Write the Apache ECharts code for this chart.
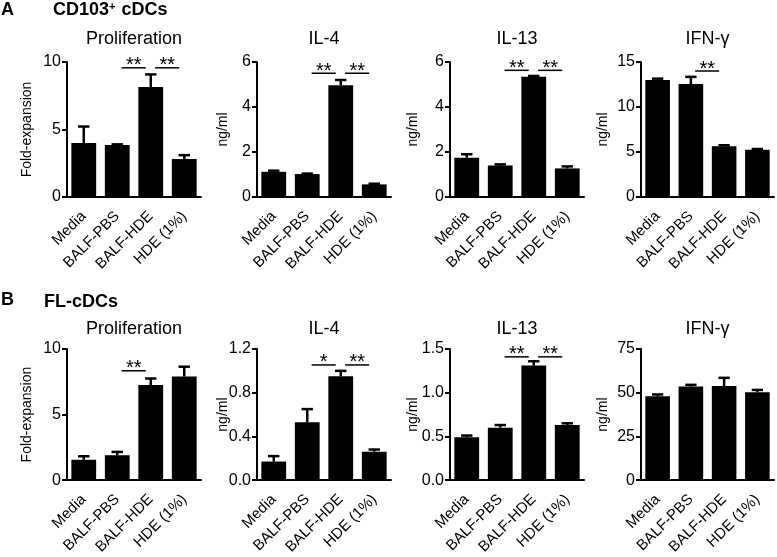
<!DOCTYPE html>
<html><head><meta charset="utf-8">
<script src="https://cdn.jsdelivr.net/npm/echarts@6/dist/echarts.min.js"></script>
<style>html,body{margin:0;padding:0;background:#fff}#c{width:777px;height:557px}</style>
</head><body><div id="c"></div>
<script>
// ---------- DATA ----------
const categories = ['Media', 'BALF-PBS', 'BALF-HDE', 'HDE (1%)'];

// Row A: CD103+ cDCs
const aProlifMean = [4.0, 3.85, 8.15, 2.82];
const aProlifErr  = [5.22, 3.9, 9.08, 3.1];
const aIL4Mean    = [1.12, 1.02, 4.97, 0.56];
const aIL4Err     = [1.17, 1.04, 5.2, 0.59];
const aIL13Mean   = [1.75, 1.4, 5.35, 1.27];
const aIL13Err    = [1.9, 1.45, 5.38, 1.36];
const aIFNMean    = [13.0, 12.55, 5.65, 5.25];
const aIFNErr     = [13.15, 13.35, 5.75, 5.33];

// Row B: FL-cDCs
const bProlifMean = [1.55, 1.9, 7.25, 7.9];
const bProlifErr  = [1.82, 2.15, 7.75, 8.65];
const bIL4Mean    = [0.17, 0.53, 0.95, 0.26];
const bIL4Err     = [0.22, 0.65, 1.0, 0.28];
const bIL13Mean   = [0.49, 0.6, 1.31, 0.63];
const bIL13Err    = [0.51, 0.63, 1.36, 0.65];
const bIFNMean    = [48.0, 53.5, 53.8, 50.2];
const bIFNErr     = [49.0, 54.5, 58.5, 51.6];

// significance brackets: [fromIndex, toIndex, yValue, label]
const aProlifSig = [[1, 2, 9.57, '**'], [2, 3, 9.57, '**']];
const aIL4Sig    = [[1, 2, 5.5, '**'], [2, 3, 5.5, '**']];
const aIL13Sig   = [[1, 2, 5.63, '**'], [2, 3, 5.63, '**']];
const aIFNSig    = [[1, 2, 14.0, '**']];
const bProlifSig = [[1, 2, 8.34, '**']];
const bIL4Sig    = [[1, 2, 1.054, '*'], [2, 3, 1.054, '**']];
const bIL13Sig   = [[1, 2, 1.41, '**'], [2, 3, 1.41, '**']];
const bIFNSig    = [];

// axis settings: [max, interval, decimals]
const aProlifAxis = [10, 5, 0], aIL4Axis = [6, 2, 0], aIL13Axis = [6, 2, 0], aIFNAxis = [15, 5, 0];
const bProlifAxis = [10, 5, 0], bIL4Axis = [1.2, 0.4, 1], bIL13Axis = [1.5, 0.5, 1], bIFNAxis = [75, 25, 0];

const panelTitles = ['Proliferation', 'IL-4', 'IL-13', 'IFN-γ'];
const yNames = ['Fold-expansion', 'ng/ml', 'ng/ml', 'ng/ml'];

// ---------- LAYOUT ----------
const FONT = '"Liberation Sans", Arial, Helvetica, sans-serif';
const colLeft = [67, 257, 450, 641];
const colWidth = [134, 134, 134, 133];
const rowTop = [62, 349];
const plotH = 135;
const nameGaps = [33, 27, 30, 31];
const titleTop = [30, 320];

const panels = [
  [aProlifMean, aProlifErr, aProlifSig, aProlifAxis],
  [aIL4Mean, aIL4Err, aIL4Sig, aIL4Axis],
  [aIL13Mean, aIL13Err, aIL13Sig, aIL13Axis],
  [aIFNMean, aIFNErr, aIFNSig, aIFNAxis],
  [bProlifMean, bProlifErr, bProlifSig, bProlifAxis],
  [bIL4Mean, bIL4Err, bIL4Sig, bIL4Axis],
  [bIL13Mean, bIL13Err, bIL13Sig, bIL13Axis],
  [bIFNMean, bIFNErr, bIFNSig, bIFNAxis]
];

const grid = [], xAxis = [], yAxis = [], series = [], title = [];

panels.forEach((p, k) => {
  const [mean, err, sig, ax] = p;
  const r = Math.floor(k / 4), c = k % 4;
  grid.push({left: colLeft[c], top: rowTop[r], width: colWidth[c], height: plotH});
  xAxis.push({
    gridIndex: k, type: 'category', data: categories,
    axisLine: {lineStyle: {color: '#000', width: 2}},
    axisTick: {alignWithLabel: true, length: 6, lineStyle: {color: '#000', width: 2}},
    axisLabel: {rotate: 45, margin: 17, fontSize: 15, color: '#000', fontFamily: FONT, interval: 0, hideOverlap: false},
    splitLine: {show: false}
  });
  yAxis.push({
    gridIndex: k, type: 'value', min: 0, max: ax[0], interval: ax[1],
    name: yNames[c], nameLocation: 'middle', nameRotate: 90, nameGap: nameGaps[c], nameMoveOverlap: false,
    nameTextStyle: {fontSize: 14, color: '#000', fontFamily: FONT},
    axisLine: {show: true, lineStyle: {color: '#000', width: 2}},
    axisTick: {show: true, length: 5, lineStyle: {color: '#000', width: 2}},
    axisLabel: {fontSize: 16, color: '#000', fontFamily: FONT, margin: 6,
      formatter: v => v.toFixed(ax[2])},
    splitLine: {show: false}
  });
  series.push({
    type: 'bar', xAxisIndex: k, yAxisIndex: k, data: mean,
    barWidth: '74%', itemStyle: {color: '#000'}, silent: true, animation: false
  });
  series.push({
    type: 'custom', xAxisIndex: k, yAxisIndex: k, animation: false, silent: true, clip: false, z: 5,
    encode: {x: 0, y: 2},
    data: mean.map((m, i) => [i, m, err[i]]),
    renderItem: (params, api) => {
      const x = api.value(0);
      const p0 = api.coord([x, api.value(1)]);
      const p1 = api.coord([x, api.value(2)]);
      const hw = api.size([1, 0])[0] * 0.17;
      return {type: 'group', children: [
        {type: 'line', shape: {x1: p0[0], y1: p0[1], x2: p1[0], y2: p1[1]}, style: {stroke: '#000', lineWidth: 2.5}},
        {type: 'line', shape: {x1: p1[0] - hw, y1: p1[1], x2: p1[0] + hw, y2: p1[1]}, style: {stroke: '#000', lineWidth: 2.5}}
      ]};
    }
  });
  if (sig.length) {
    series.push({
      type: 'custom', xAxisIndex: k, yAxisIndex: k, animation: false, silent: true, clip: false, z: 6,
      encode: {x: 0, y: 1},
      data: sig.map(s => [s[0], s[2]]),
      renderItem: (params, api) => {
        const s = sig[params.dataIndex];
        const a = api.coord([s[0], s[2]]);
        const b = api.coord([s[1], s[2]]);
        const band = api.size([1, 0])[0];
        const x1 = a[0] + band * 0.13, x2 = b[0] - band * 0.15;
        return {type: 'group', children: [
          {type: 'line', shape: {x1: x1, y1: a[1], x2: x2, y2: a[1]}, style: {stroke: '#000', lineWidth: 1.5}},
          {type: 'text', style: {text: s[3], x: (x1 + x2) / 2, y: a[1] - 2, align: 'center', verticalAlign: 'middle',
            fontSize: 20, fontFamily: FONT, fill: '#000'}}
        ]};
      }
    });
  }
  title.push({
    text: panelTitles[c], left: colLeft[c] + colWidth[c] / 2, top: titleTop[r], textAlign: 'center', padding: 0,
    textStyle: {fontSize: 18, fontWeight: 'normal', color: '#000', fontFamily: FONT}
  });
});

title.push({text: 'A', left: 1, top: 1, padding: 0, textStyle: {fontSize: 18, fontWeight: 'bold', color: '#000', fontFamily: FONT}});
title.push({text: 'CD103{sup|+} cDCs', left: 53, top: 1, padding: 0,
  textStyle: {fontSize: 18, fontWeight: 'bold', color: '#000', fontFamily: FONT,
    rich: {sup: {fontSize: 11, fontWeight: 'bold', color: '#000', fontFamily: FONT, verticalAlign: 'top', padding: [0, 1, 7, 0]}}}});
title.push({text: 'B', left: 1, top: 291, padding: 0, textStyle: {fontSize: 18, fontWeight: 'bold', color: '#000', fontFamily: FONT}});
title.push({text: 'FL-cDCs', left: 44, top: 293, padding: 0, textStyle: {fontSize: 18, fontWeight: 'bold', color: '#000', fontFamily: FONT}});

const chart = echarts.init(document.getElementById('c'), null, {renderer: 'canvas'});
chart.setOption({animation: false, backgroundColor: '#fff', title, grid, xAxis, yAxis, series});
</script></body></html>
